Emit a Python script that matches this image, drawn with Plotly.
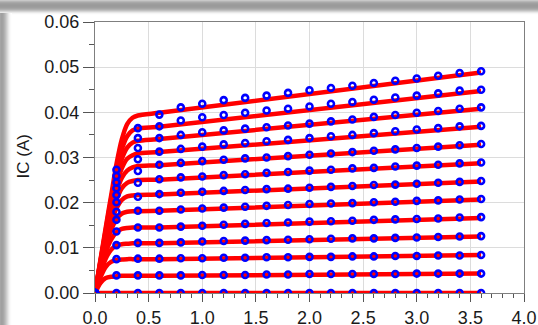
import plotly.graph_objects as go

# ---------------- data ----------------
vce_meas = [0.0, 0.2, 0.4, 0.6, 0.8, 1.0, 1.2, 1.4, 1.6, 1.8, 2.0, 2.2, 2.4, 2.6, 2.8, 3.0, 3.2, 3.4, 3.6]

meas_c1 = [0, 0.0273, 0.0365, 0.0395, 0.0411, 0.0419, 0.0427, 0.0432, 0.0437, 0.0443, 0.0449, 0.0454, 0.0459, 0.0465, 0.0470, 0.0475, 0.0481, 0.0487, 0.0491]
meas_c2 = [0, 0.0259, 0.0343, 0.0369, 0.0382, 0.0389, 0.0394, 0.0399, 0.0404, 0.0408, 0.0413, 0.0419, 0.0423, 0.0428, 0.0433, 0.0437, 0.0442, 0.0448, 0.0450]
meas_c3 = [0, 0.0245, 0.0321, 0.0343, 0.0350, 0.0356, 0.0360, 0.0364, 0.0367, 0.0371, 0.0375, 0.0380, 0.0384, 0.0390, 0.0394, 0.0399, 0.0403, 0.0408, 0.0411]
meas_c4 = [0, 0.0232, 0.0296, 0.0313, 0.0319, 0.0324, 0.0329, 0.0332, 0.0336, 0.0339, 0.0343, 0.0347, 0.0350, 0.0354, 0.0358, 0.0362, 0.0365, 0.0369, 0.0370]
meas_c5 = [0, 0.0217, 0.0270, 0.0284, 0.0288, 0.0292, 0.0295, 0.0298, 0.0300, 0.0303, 0.0306, 0.0309, 0.0312, 0.0315, 0.0318, 0.0321, 0.0324, 0.0327, 0.0330]
meas_c6 = [0, 0.0201, 0.0244, 0.0252, 0.0256, 0.0258, 0.0261, 0.0263, 0.0266, 0.0268, 0.0271, 0.0273, 0.0276, 0.0277, 0.0280, 0.0282, 0.0284, 0.0287, 0.0289]
meas_c7 = [0, 0.0180, 0.0213, 0.0219, 0.0222, 0.0224, 0.0226, 0.0228, 0.0230, 0.0231, 0.0233, 0.0235, 0.0237, 0.0239, 0.0240, 0.0242, 0.0244, 0.0246, 0.0248]
meas_c8 = [0, 0.0162, 0.0182, 0.0182, 0.0185, 0.0187, 0.0189, 0.0191, 0.0193, 0.0195, 0.0197, 0.0198, 0.0199, 0.0201, 0.0202, 0.0204, 0.0205, 0.0207, 0.0208]
meas_c9 = [0, 0.0136, 0.0145, 0.0145, 0.0147, 0.0149, 0.0151, 0.0153, 0.0155, 0.0156, 0.0158, 0.0159, 0.0160, 0.0162, 0.0163, 0.0164, 0.0165, 0.0167, 0.0168]
meas_c10 = [0, 0.0106, 0.0111, 0.0111, 0.0112, 0.0114, 0.0115, 0.0116, 0.0117, 0.0118, 0.0119, 0.0120, 0.0121, 0.0121, 0.0122, 0.0123, 0.0124, 0.0125, 0.0126]
meas_c11 = [0, 0.0075, 0.0076, 0.0076, 0.0077, 0.0077, 0.0078, 0.0078, 0.0079, 0.0079, 0.0080, 0.0080, 0.0081, 0.0081, 0.0082, 0.0082, 0.0083, 0.0083, 0.0084]
meas_c12 = [0, 0.0039, 0.0039, 0.0039, 0.0039, 0.0040, 0.0040, 0.0040, 0.0041, 0.0041, 0.0042, 0.0042, 0.0042, 0.0042, 0.0042, 0.0043, 0.0043, 0.0043, 0.0043]
meas_c13 = [0, 0, 0, 0, 0, 0, 0, 0, 0, 0, 0, 0, 0, 0, 0, 0, 0, 0, 0]

vce_sim = [0.0, 0.05, 0.1, 0.15, 0.2, 0.25, 0.3, 0.35, 0.4, 0.6, 3.6]

sim_c1 = [0, 0.0072, 0.0145, 0.0215, 0.0285, 0.0340, 0.0374, 0.0388, 0.0393, 0.0399, 0.0488]
sim_c2 = [0, 0.0070, 0.0140, 0.0208, 0.0270, 0.0318, 0.0347, 0.0360, 0.0364, 0.0368, 0.0447]
sim_c3 = [0, 0.0068, 0.0135, 0.0200, 0.0255, 0.0297, 0.0322, 0.0333, 0.0337, 0.0341, 0.0408]
sim_c4 = [0, 0.0066, 0.0130, 0.0192, 0.0240, 0.0276, 0.0297, 0.0305, 0.0309, 0.0312, 0.0368]
sim_c5 = [0, 0.0063, 0.0125, 0.0182, 0.0224, 0.0255, 0.0271, 0.0278, 0.0281, 0.0283, 0.0328]
sim_c6 = [0, 0.0060, 0.0118, 0.0170, 0.0206, 0.0232, 0.0244, 0.0248, 0.0250, 0.0251, 0.0287]
sim_c7 = [0, 0.0057, 0.0110, 0.0156, 0.0187, 0.0206, 0.0214, 0.0216, 0.0217, 0.0218, 0.0247]
sim_c8 = [0, 0.0053, 0.0101, 0.0139, 0.0164, 0.0176, 0.0180, 0.0181, 0.0181, 0.0182, 0.0207]
sim_c9 = [0, 0.0048, 0.0090, 0.0118, 0.0135, 0.0142, 0.0144, 0.0145, 0.0145, 0.0145, 0.0166]
sim_c10 = [0, 0.0042, 0.0076, 0.0096, 0.0105, 0.0108, 0.0109, 0.0110, 0.0110, 0.0110, 0.0125]
sim_c11 = [0, 0.0034, 0.0058, 0.0069, 0.0073, 0.0074, 0.0075, 0.0075, 0.0075, 0.0075, 0.0084]
sim_c12 = [0, 0.0022, 0.0033, 0.0036, 0.0037, 0.0038, 0.0038, 0.0038, 0.0038, 0.0038, 0.0043]
sim_c13 = [0, 0, 0, 0, 0, 0, 0, 0, 0, 0, 0]

x_ticks = [0.0, 0.5, 1.0, 1.5, 2.0, 2.5, 3.0, 3.5, 4.0]
y_ticks = [0.00, 0.01, 0.02, 0.03, 0.04, 0.05, 0.06]
y_title = "IC (A)"

meas_all = [meas_c1, meas_c2, meas_c3, meas_c4, meas_c5, meas_c6, meas_c7,
            meas_c8, meas_c9, meas_c10, meas_c11, meas_c12, meas_c13]
sim_all = [sim_c1, sim_c2, sim_c3, sim_c4, sim_c5, sim_c6, sim_c7,
           sim_c8, sim_c9, sim_c10, sim_c11, sim_c12, sim_c13]

# ---------------- figure ----------------
W, H = 538, 325
L, R, T, B = 95, 14, 22, 32
PW, PH = W - L - R, H - T - B

fig = go.Figure()
for s in sim_all:
    fig.add_trace(go.Scatter(x=vce_sim, y=s, mode="lines",
                             line=dict(color="#ff0000", width=4.5, shape="spline", smoothing=0.6),
                             hoverinfo="skip", showlegend=False))
for m in meas_all:
    fig.add_trace(go.Scatter(x=vce_meas, y=m, mode="markers",
                             marker=dict(symbol="circle-open", size=6, color="#0000ff",
                                         line=dict(width=2.6, color="#0000ff")),
                             showlegend=False))

# drop shadow of the screenshot frame (styling only)
shapes = []
def px2x(p):
    return (p - L) / PW
def py2y(p):
    return (H - B - p) / PH
top_greys = [200, 182, 168, 160, 156, 154, 155, 158, 165, 176, 192, 212, 232, 246, 253]
for i, g in enumerate(top_greys):
    shapes.append(dict(type="rect", xref="paper", yref="paper",
                       x0=px2x(0), x1=px2x(W), y0=py2y(i + 1), y1=py2y(i),
                       line=dict(width=0), fillcolor=f"rgb({g},{g},{g})", layer="above"))
left_greys = [165, 160, 162, 168, 178, 190, 204, 218, 232, 243, 250, 254]
for i, g in enumerate(left_greys):
    shapes.append(dict(type="rect", xref="paper", yref="paper",
                       x0=px2x(i), x1=px2x(i + 1), y0=py2y(H), y1=py2y(len(top_greys) - 2),
                       line=dict(width=0), fillcolor=f"rgb({g},{g},{g})", layer="above"))

FONT = "Liberation Sans, Arial, sans-serif"
tickfont = dict(family=FONT, size=18, color="#1a1a1a")

fig.update_layout(
    width=W, height=H,
    margin=dict(l=L, r=R, t=T, b=B, pad=0, autoexpand=False),
    paper_bgcolor="white", plot_bgcolor="white",
    shapes=shapes,
    annotations=[dict(text=y_title, textangle=-90, xref="paper", yref="paper",
                      x=px2x(22.5), y=py2y(157), xanchor="center", yanchor="middle",
                      showarrow=False, font=dict(family=FONT, size=17, color="#1a1a1a"))],
    xaxis=dict(range=[0, 4], tickvals=x_ticks, tickformat=".1f", tickfont=tickfont,
               automargin=False,
               showgrid=True, gridcolor="#dcdcdc", gridwidth=1, zeroline=False,
               showline=True, linecolor="#7f7f7f", linewidth=1.3, mirror=True,
               ticks="outside", ticklen=8, tickcolor="#555555", tickwidth=1,
               minor=dict(dtick=0.1, ticks="outside", ticklen=4, tickcolor="#555555", showgrid=False),
               fixedrange=True),
    yaxis=dict(range=[0, 0.06], tickvals=y_ticks, tickformat=".2f", tickfont=tickfont,
               automargin=False,
               showgrid=True, gridcolor="#dcdcdc", gridwidth=1, zeroline=False,
               showline=True, linecolor="#7f7f7f", linewidth=1.3, mirror=True,
               ticks="outside", ticklen=11, tickcolor="#555555", tickwidth=1,
               minor=dict(dtick=0.005, ticks="outside", ticklen=5, tickcolor="#555555", showgrid=False),
               fixedrange=True),
)

fig.write_html("out.html", config=dict(displayModeBar=False),
               post_script="document.body.style.margin='0';document.body.style.overflow='hidden';")
